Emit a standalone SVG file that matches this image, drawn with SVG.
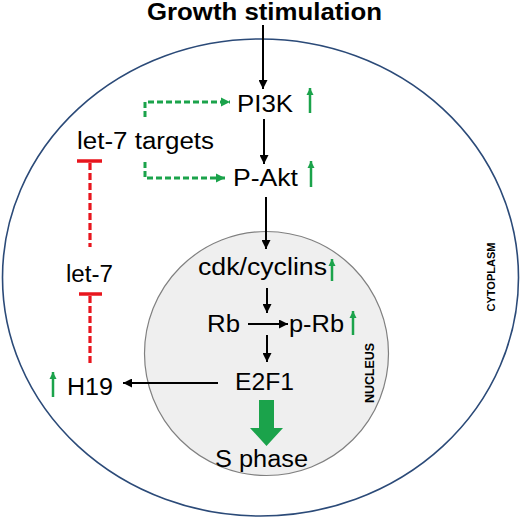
<svg xmlns="http://www.w3.org/2000/svg" width="520" height="527" viewBox="0 0 520 527">
<style>
.t{font-family:"Liberation Sans",Arial,sans-serif;font-size:23px;fill:#000}
.b{font-family:"Liberation Sans",Arial,sans-serif;font-weight:bold;fill:#000}
.blk{stroke:#000;stroke-width:2;fill:none}
.gd{stroke:#1ba34b;stroke-width:3;fill:none;stroke-dasharray:6 3}
.rd{stroke:#e8151d;stroke-width:3.2;fill:none;stroke-dasharray:7 3}
.rt{stroke:#e8151d;stroke-width:3.5;fill:none}
.gs{stroke:#1ba34b;stroke-width:2.5;fill:none}
.gf{fill:#1ba34b}
</style>
<defs>
<marker id="ah" viewBox="0 0 10 10" refX="10" refY="5" markerWidth="10" markerHeight="9" markerUnits="userSpaceOnUse" orient="auto">
<path d="M0,0 L10,5 L0,10 z" fill="#000"/>
</marker>
<marker id="gh" viewBox="0 0 10 10" refX="10" refY="5" markerWidth="9" markerHeight="10" markerUnits="userSpaceOnUse" orient="auto">
<path d="M0,0 L10,5 L0,10 z" fill="#1ba34b"/>
</marker>
<marker id="uh" viewBox="0 0 10 10" refX="10" refY="5" markerWidth="7" markerHeight="8" markerUnits="userSpaceOnUse" orient="auto">
<path d="M0,0 L10,5 L0,10 z" fill="#1ba34b"/>
</marker>
</defs>
<g id="cell">
<ellipse cx="260.5" cy="277.5" rx="258" ry="238.5" fill="#fff" stroke="#2b4a78" stroke-width="1.6"/>
<text class="b" font-size="11" transform="translate(495,277) rotate(-90)" text-anchor="middle" textLength="69" lengthAdjust="spacingAndGlyphs">CYTOPLASM</text>
</g>
<g id="nucleus">
<circle cx="266.5" cy="353.5" r="122" fill="#efefef" stroke="#808080" stroke-width="1.2"/>
<text class="b" font-size="12" transform="translate(374,373) rotate(-90)" text-anchor="middle" textLength="60" lengthAdjust="spacingAndGlyphs">NUCLEUS</text>
</g>
<g id="growth"><text class="b" font-size="23" x="147" y="20" textLength="235" lengthAdjust="spacingAndGlyphs">Growth stimulation</text></g>
<g id="pi3k"><text class="t" x="237" y="112" textLength="56" lengthAdjust="spacingAndGlyphs">PI3K</text></g>
<g id="pakt"><text class="t" x="233" y="186" textLength="65" lengthAdjust="spacingAndGlyphs">P-Akt</text></g>
<g id="let7targets"><text class="t" x="77" y="149" textLength="137" lengthAdjust="spacingAndGlyphs">let-7 targets</text></g>
<g id="let7"><text class="t" x="66" y="282" textLength="47" lengthAdjust="spacingAndGlyphs">let-7</text></g>
<g id="h19"><text class="t" x="67" y="395" textLength="46" lengthAdjust="spacingAndGlyphs">H19</text></g>
<g id="cdk"><text class="t" font-size="22" x="198" y="275" textLength="129" lengthAdjust="spacingAndGlyphs">cdk/cyclins</text></g>
<g id="rb"><text class="t" x="207" y="332" textLength="33" lengthAdjust="spacingAndGlyphs">Rb</text></g>
<g id="prb"><text class="t" x="289" y="332" textLength="55" lengthAdjust="spacingAndGlyphs">p-Rb</text></g>
<g id="e2f1"><text class="t" x="235" y="390" textLength="59" lengthAdjust="spacingAndGlyphs">E2F1</text></g>
<g id="sphase"><text class="t" x="215" y="467" textLength="93" lengthAdjust="spacingAndGlyphs">S phase</text></g>
<g id="connectors">
<line class="blk" x1="263" y1="25" x2="263" y2="89" marker-end="url(#ah)"/>
<line class="blk" x1="264" y1="119" x2="264" y2="164" marker-end="url(#ah)"/>
<line class="blk" x1="266" y1="197" x2="266" y2="249" marker-end="url(#ah)"/>
<line class="blk" x1="267" y1="288" x2="267" y2="313" marker-end="url(#ah)"/>
<line class="blk" x1="248" y1="324" x2="288" y2="324" marker-end="url(#ah)"/>
<line class="blk" x1="267" y1="335" x2="267" y2="362" marker-end="url(#ah)"/>
<line class="blk" x1="218" y1="383" x2="123" y2="383" marker-end="url(#ah)"/>
<path class="gd" d="M145,117 V102 H230" marker-end="url(#gh)"/>
<path class="gd" d="M145,162 V178 H225" marker-end="url(#gh)"/>
<line class="rt" x1="77" y1="161" x2="102" y2="161"/>
<line class="rd" x1="90" y1="163" x2="90" y2="247"/>
<line class="rt" x1="79" y1="294" x2="102" y2="294"/>
<line class="rd" x1="90" y1="296" x2="90" y2="363"/>
<polygon class="gf" points="259,400 274,400 274,428 283,428 266.5,446 250,428 259,428"/>
<line class="gs" x1="310" y1="113" x2="310" y2="88" marker-end="url(#uh)"/>
<line class="gs" x1="311" y1="187" x2="311" y2="161" marker-end="url(#uh)"/>
<line class="gs" x1="332" y1="281" x2="332" y2="259" marker-end="url(#uh)"/>
<line class="gs" x1="353" y1="335" x2="353" y2="311" marker-end="url(#uh)"/>
<line class="gs" x1="53" y1="397" x2="53" y2="372" marker-end="url(#uh)"/>
</g>
</svg>
